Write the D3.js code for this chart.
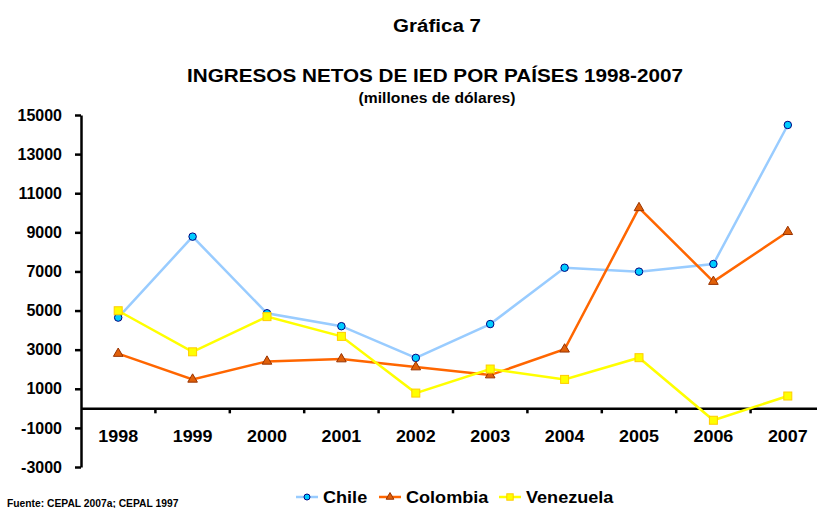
<!DOCTYPE html>
<html>
<head>
<meta charset="utf-8">
<script src="https://cdn.jsdelivr.net/npm/d3@7"></script>
<style>
  body { margin: 0; background: #fff; }
  svg text { font-family: 'Liberation Sans', Arial, sans-serif; font-weight: bold; fill: #000; }
</style>
</head>
<body>
<div id="chart"></div>
<script>
// Values (millones de dólares)
const years = ['1998', '1999', '2000', '2001', '2002', '2003', '2004', '2005', '2006', '2007'];
const chile = [4640, 8780, 4860, 4200, 2580, 4310, 7190, 6990, 7380, 14490];
const colombia = [2800, 1480, 2400, 2520, 2110, 1700, 3020, 10250, 6480, 9030];
const venezuela = [4990, 2890, 4690, 3680, 780, 2010, 1480, 2590, -610, 630];
const yTicks = [15000, 13000, 11000, 9000, 7000, 5000, 3000, 1000, -1000, -3000];

const series = [
  { name: 'Chile', values: chile, line: '#99ccff', fill: '#00ccff', stroke: '#000080', shape: 'circle' },
  { name: 'Colombia', values: colombia, line: '#ff6600', fill: '#e0600a', stroke: '#993300', shape: 'triangle' },
  { name: 'Venezuela', values: venezuela, line: '#ffff00', fill: '#ffff00', stroke: '#ffcc00', shape: 'square' }
];

const w = 817;
const h = 508;

const svg = d3.select('#chart')
  .append('svg')
  .attr('width', w)
  .attr('height', h);

// The reference text is a bit wider than Arial, so stretch it horizontally
function addText(parent, x, y, str, size, anchor, sx) {
  return parent.append('text')
    .attr('transform', 'translate(' + x + ',' + y + ') scale(' + sx + ',1)')
    .attr('text-anchor', anchor)
    .style('font-size', size + 'px')
    .text(str);
}

// Titles
addText(svg, 437, 32, 'Gráfica 7', 19, 'middle', 1.08);
addText(svg, 435, 82, 'INGRESOS NETOS DE IED POR PAÍSES 1998-2007', 19, 'middle', 1.09);
addText(svg, 437, 103, '(millones de dólares)', 14, 'middle', 1.12);

// Scales
const x = d3.scaleBand().domain(years).range([81, 825]);
const y = d3.scaleLinear().domain([-3000, 15000]).range([467, 115]);
const cx = (d, i) => x(years[i]) + x.bandwidth() / 2;

// Y axis
const yAxis = d3.axisLeft(y).tickValues(yTicks).tickSize(6).tickSizeOuter(0).tickFormat((d) => String(d));
const gy = svg.append('g').attr('transform', 'translate(81,0)').call(yAxis);
gy.select('.domain').attr('stroke', '#000').attr('stroke-width', 2.5);
gy.selectAll('.tick line').attr('stroke', '#000').attr('stroke-width', 2.5);
gy.selectAll('.tick text').attr('x', -19).style('font-size', '16px').style('font-family', "'Liberation Sans', Arial, sans-serif");

// X axis at zero
const xAxis = d3.axisBottom(x).tickSize(0).tickSizeOuter(0).tickFormat('');
const gx = svg.append('g').attr('transform', 'translate(0,' + y(0) + ')').call(xAxis);
gx.select('.domain').attr('stroke', '#000').attr('stroke-width', 2.5);
gx.selectAll('.tick').each(function (d) {
  addText(d3.select(this), 0, 34, d, 16, 'middle', 1.12);
});
// category boundary ticks
gx.selectAll('.bound')
  .data(years.slice(1))
  .enter()
  .append('line')
  .attr('x1', (d) => x(d))
  .attr('x2', (d) => x(d))
  .attr('y1', 0)
  .attr('y2', 5)
  .attr('stroke', '#000')
  .attr('stroke-width', 2.5);

// Lines
const line = d3.line().x(cx).y((d) => y(d));

function drawMarker(g, shape, fill, stroke, size) {
  if (shape === 'circle') {
    g.append('circle').attr('r', size * 0.75).attr('fill', fill).attr('stroke', stroke).attr('stroke-width', 1);
  } else if (shape === 'triangle') {
    g.append('path').attr('d', d3.symbol().type(d3.symbolTriangle).size(size * size * 1.6)())
      .attr('fill', fill).attr('stroke', stroke).attr('stroke-width', 1);
  } else {
    g.append('rect').attr('x', -size * 0.8).attr('y', -size * 0.8).attr('width', size * 1.6).attr('height', size * 1.6)
      .attr('fill', fill).attr('stroke', stroke).attr('stroke-width', 1);
  }
}

series.forEach((s) => {
  svg.append('path')
    .datum(s.values)
    .attr('fill', 'none')
    .attr('stroke', s.line)
    .attr('stroke-width', 2.5)
    .attr('d', line);
});

series.forEach((s) => {
  svg.selectAll('.m-' + s.name)
    .data(s.values)
    .enter()
    .append('g')
    .attr('transform', (d, i) => 'translate(' + cx(d, i) + ',' + y(d) + ')')
    .each(function () { drawMarker(d3.select(this), s.shape, s.fill, s.stroke, 5); });
});

// Legend
const legendX = [296, 379, 499];
series.forEach((s, i) => {
  const lg = svg.append('g').attr('transform', 'translate(' + legendX[i] + ',497)');
  lg.append('line').attr('x1', 0).attr('x2', 22).attr('y1', 0).attr('y2', 0)
    .attr('stroke', s.line).attr('stroke-width', 2.5);
  const mg = lg.append('g').attr('transform', 'translate(11,0)');
  drawMarker(mg, s.shape, s.fill, s.stroke, 4);
  addText(lg, 27, 6, s.name, 16, 'start', 1.13);
});

// Source
addText(svg, 7, 507, 'Fuente: CEPAL 2007a; CEPAL 1997', 10, 'start', 1.03);
</script>
</body>
</html>
